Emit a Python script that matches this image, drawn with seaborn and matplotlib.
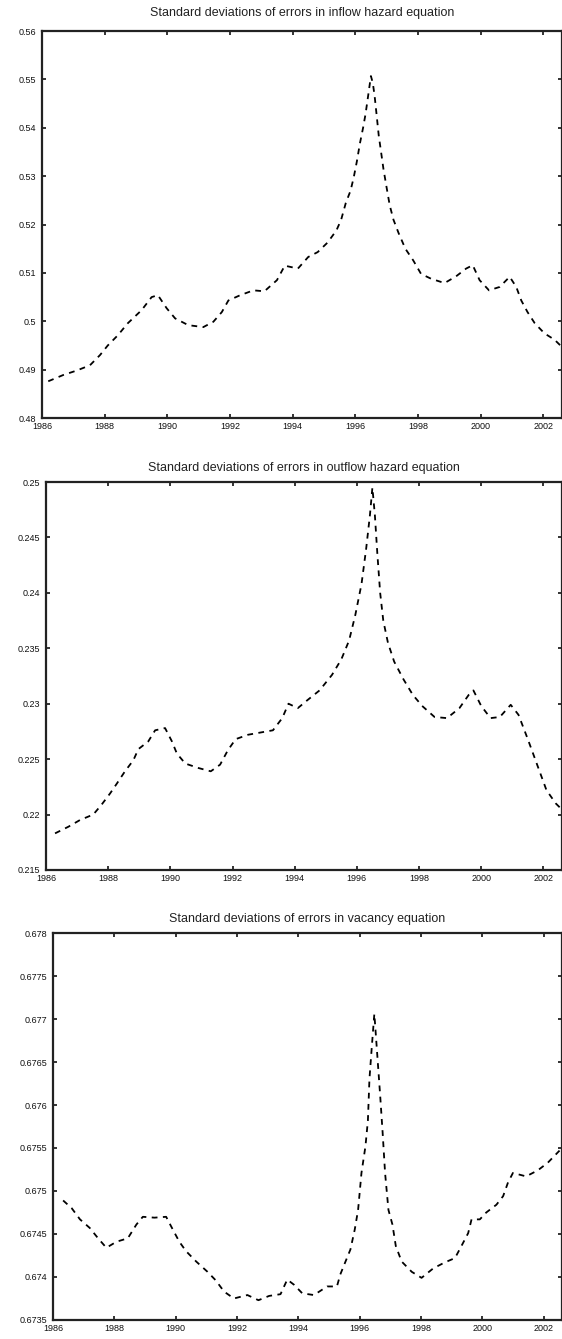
import numpy as np
import pandas as pd
import matplotlib
matplotlib.use("Agg")
import matplotlib.pyplot as plt
from matplotlib.ticker import FuncFormatter, MultipleLocator
import seaborn as sns

# ---------------- data ----------------
years_inflow = [1986.2, 1986.68, 1987.1, 1987.53, 1987.85, 1988.1, 1988.42, 1988.74, 1989.18, 1989.5,
                1989.7, 1989.98, 1990.25, 1990.67, 1991.15, 1991.47, 1991.74, 1991.95, 1992.33, 1992.75,
                1993.1, 1993.5, 1993.75, 1994.17, 1994.5, 1994.8, 1995.12, 1995.4, 1995.55, 1995.7,
                1995.85, 1995.95, 1996.05, 1996.15, 1996.25, 1996.33, 1996.42, 1996.5, 1996.56, 1996.62,
                1996.68, 1996.75, 1996.82, 1996.9, 1997.0, 1997.1, 1997.22, 1997.38, 1997.6, 1997.85,
                1998.1, 1998.42, 1998.85, 1999.22, 1999.54, 1999.75, 1999.97, 2000.27, 2000.61, 2000.93,
                2001.14, 2001.3, 2001.5, 2001.73, 2002.04, 2002.36, 2002.55]
sd_inflow = [0.4876, 0.4889, 0.4898, 0.4909, 0.4930, 0.4950, 0.4971, 0.4996, 0.5023, 0.5050,
             0.5054, 0.5027, 0.5006, 0.4992, 0.4988, 0.4999, 0.5019, 0.5043, 0.5054, 0.5064,
             0.5062, 0.5085, 0.5115, 0.5109, 0.5133, 0.5143, 0.5163, 0.5188, 0.5210, 0.5245,
             0.5270, 0.5297, 0.5330, 0.5368, 0.5400, 0.5429, 0.5470, 0.5507, 0.5493, 0.5465,
             0.5428, 0.5384, 0.5352, 0.5315, 0.5277, 0.5240, 0.5210, 0.5183, 0.5150, 0.5126,
             0.5098, 0.5088, 0.5079, 0.5093, 0.5109, 0.5116, 0.5085, 0.5064, 0.5071, 0.5092,
             0.5071, 0.5043, 0.5019, 0.4996, 0.4975, 0.4962, 0.4950]

years_outflow = [1986.29, 1986.72, 1987.09, 1987.52, 1987.79, 1988.06, 1988.28, 1988.54, 1988.81, 1988.97,
                 1989.29, 1989.51, 1989.83, 1990.05, 1990.21, 1990.48, 1990.9, 1991.3, 1991.6, 1991.85,
                 1992.1, 1992.5, 1992.9, 1993.3, 1993.6, 1993.8, 1994.1, 1994.4, 1994.8, 1995.2,
                 1995.5, 1995.75, 1995.95, 1996.15, 1996.3, 1996.42, 1996.5, 1996.58, 1996.66, 1996.75,
                 1996.85, 1997.0, 1997.2, 1997.5, 1997.8, 1998.1, 1998.5, 1998.9, 1999.3, 1999.6,
                 1999.75, 2000.0, 2000.3, 2000.6, 2000.95, 2001.2, 2001.5, 2001.8, 2002.1, 2002.4,
                 2002.58]
sd_outflow = [0.2183, 0.2189, 0.2195, 0.2200, 0.2209, 0.2219, 0.2228, 0.2239, 0.2249, 0.2259,
              0.2266, 0.2276, 0.2278, 0.2266, 0.2255, 0.2246, 0.2242, 0.2239, 0.2245, 0.2258,
              0.2268, 0.2272, 0.2274, 0.2276, 0.2287, 0.2300, 0.2296, 0.2303, 0.2312, 0.2326,
              0.2340, 0.2357, 0.2380, 0.2408, 0.2440, 0.2470, 0.2495, 0.2470, 0.2435, 0.2400,
              0.2375, 0.2355, 0.2338, 0.2322, 0.2308, 0.2298, 0.2288, 0.2287, 0.2296, 0.2308,
              0.2312, 0.2298, 0.2287, 0.2288, 0.2299, 0.2290, 0.2268, 0.2245, 0.2222, 0.2210,
              0.2205]

years_vacancy = [1986.33, 1986.61, 1986.88, 1987.2, 1987.47, 1987.74, 1988.07, 1988.44, 1988.72, 1988.93,
                 1989.31, 1989.69, 1989.91, 1990.12, 1990.34, 1990.67, 1991.04, 1991.31, 1991.58, 1991.9,
                 1992.34, 1992.7, 1993.05, 1993.42, 1993.64, 1993.86, 1994.13, 1994.51, 1994.94, 1995.26,
                 1995.37, 1995.54, 1995.7, 1995.84, 1995.95, 1996.06, 1996.19, 1996.27, 1996.32, 1996.4,
                 1996.48, 1996.53, 1996.6, 1996.67, 1996.75, 1996.83, 1996.94, 1997.07, 1997.18, 1997.37,
                 1997.7, 1998.02, 1998.4, 1998.78, 1999.11, 1999.32, 1999.54, 1999.65, 1999.92, 2000.13,
                 2000.46, 2000.68, 2000.84, 2001.0, 2001.43, 2001.81, 2002.14, 2002.52]
sd_vacancy = [0.67489, 0.67480, 0.67467, 0.67457, 0.67445, 0.67434, 0.67441, 0.67445, 0.67461, 0.67470,
              0.67469, 0.67470, 0.67455, 0.67441, 0.67430, 0.67418, 0.67406, 0.67396, 0.67383, 0.67375,
              0.67379, 0.67373, 0.67378, 0.67380, 0.67397, 0.67391, 0.67381, 0.67379, 0.67389, 0.67389,
              0.67403, 0.67418, 0.67432, 0.67455, 0.67478, 0.67521, 0.67552, 0.67582, 0.67630, 0.67669,
              0.67706, 0.67681, 0.67646, 0.67611, 0.67568, 0.67521, 0.67478, 0.67461, 0.67436, 0.67418,
              0.67406, 0.67399, 0.67410, 0.67417, 0.67422, 0.67436, 0.67451, 0.67467, 0.67467, 0.67475,
              0.67484, 0.67494, 0.67510, 0.67521, 0.67517, 0.67524, 0.67533, 0.67547]

titles = ["Standard deviations of errors in inflow hazard equation",
          "Standard deviations of errors in outflow hazard equation",
          "Standard deviations of errors in vacancy equation"]
year_ticks = [1986, 1988, 1990, 1992, 1994, 1996, 1998, 2000, 2002]

# ---------------- style ----------------
sns.set_theme(style="ticks")
plt.rcParams['font.family'] = ['Liberation Sans', 'DejaVu Sans']

fig = plt.figure(figsize=(5.62, 13.39), dpi=100)

panels = [
    (years_inflow, sd_inflow, titles[0], (0.48, 0.56), 0.01, [0.0747, 0.6878, 1.0 - 0.0747, 0.2890], 11),
    (years_outflow, sd_outflow, titles[1], (0.215, 0.25), 0.005, [0.0819, 0.3503, 1.0 - 0.0819, 0.2897], 8),
    (years_vacancy, sd_vacancy, titles[2], (0.6735, 0.678), 0.0005, [0.0943, 0.0142, 1.0 - 0.0943, 0.2890], 8),
]

for yrs, vals, title, ylim, ystep, rect, pad in panels:
    ax = fig.add_axes(rect)
    df = pd.DataFrame({"year": yrs, "sd": vals})
    sns.lineplot(data=df, x="year", y="sd", ax=ax, color="black", linewidth=1.3,
                 linestyle=(0, (3.2, 3.0)), estimator=None, sort=False)
    ax.set_xlim(1986, 2002.6)
    ax.set_ylim(*ylim)
    ax.set_xticks(year_ticks)
    ax.yaxis.set_major_locator(MultipleLocator(ystep))
    ax.yaxis.set_major_formatter(FuncFormatter(lambda v, p: f"{round(v, 6):g}"))
    ax.set_xlabel("")
    ax.set_ylabel("")
    ax.set_title(title, fontsize=9, pad=pad, color="#222222")
    ax.tick_params(axis="both", direction="in", length=3, width=1.2, labelsize=6.5,
                   colors="#111111", top=True, right=True)
    ax.tick_params(axis="x", pad=3)
    ax.tick_params(axis="y", pad=4)
    for s in ax.spines.values():
        s.set_linewidth(1.6)
        s.set_color("#222222")
    ax.grid(False)

fig.savefig("out.png", dpi=100)
